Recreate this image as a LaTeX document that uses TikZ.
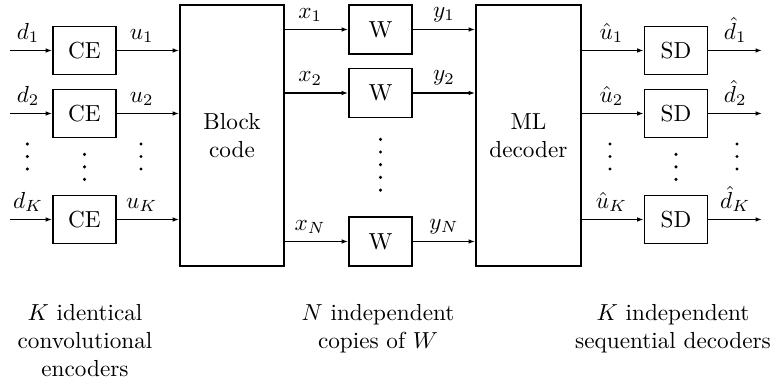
\documentclass[tikz,border=0pt]{standalone}
\usetikzlibrary{arrows.meta}
\begin{document}
\begin{tikzpicture}[x=0.431pt,y=-0.431pt,
  box/.style={draw,line width=0.75pt,inner sep=0pt,minimum width=27.15pt,minimum height=20.7pt},
  wbox/.style={box,minimum height=21.1pt},
  big/.style={draw,line width=0.75pt,inner sep=0pt,minimum width=44.8pt,minimum height=112.5pt,align=center},
  arr/.style={line width=0.7pt,-{Latex[length=2.8pt,width=2pt]}},
  lab/.style={above,inner sep=3pt},
  dot/.style={radius=0.75pt},
  note/.style={align=center,anchor=north,inner sep=0pt}]
\useasboundingbox (0,0) rectangle (777,386);
% convolutional encoders
\node[box] (ce1) at (84.5,50.5) {CE};
\node[box] (ce2) at (84.5,113.5) {CE};
\node[box] (ceK) at (84.5,219.5) {CE};
% block code and ML decoder
\node[big] (blk) at (232,135.5) {Block\\code};
\node[big,minimum width=45.3pt] (ml) at (528.5,135.5) {ML\\decoder};
% channels
\node[wbox] (w1) at (380.5,29.5) {W};
\node[wbox] (w2) at (380.5,93) {W};
\node[wbox] (wN) at (380.5,241.5) {W};
% sequential decoders
\node[box] (sd1) at (676,50.5) {SD};
\node[box] (sd2) at (676,113.5) {SD};
\node[box] (sdK) at (676,219.5) {SD};
% free ends
\coordinate (in1) at (10,50.5);
\coordinate (in2) at (10,113.5);
\coordinate (inK) at (10,219.5);
\coordinate (out1) at (762,50.5);
\coordinate (out2) at (762,113.5);
\coordinate (outK) at (762,219.5);
% connectors
\draw[arr] (in1) -- node[lab,pos=.43] {$d_1$} (ce1);
\draw[arr] (in2) -- node[lab,pos=.43] {$d_2$} (ce2);
\draw[arr] (inK) -- node[lab,pos=.43] {$d_K$} (ceK);
\draw[arr] (ce1) -- node[lab,pos=.4] {$u_1$} (ce1 -| blk.west);
\draw[arr] (ce2) -- node[lab,pos=.4] {$u_2$} (ce2 -| blk.west);
\draw[arr] (ceK) -- node[lab,pos=.4] {$u_K$} (ceK -| blk.west);
\draw[arr] (blk.east |- w1) -- node[lab,pos=.4] {$x_1$} (w1);
\draw[arr] (blk.east |- w2) -- node[lab,pos=.4] {$x_2$} (w2);
\draw[arr] (blk.east |- wN) -- node[lab,pos=.4] {$x_N$} (wN);
\draw[arr] (w1) -- node[lab,pos=.5] {$y_1$} (w1 -| ml.west);
\draw[arr] (w2) -- node[lab,pos=.5] {$y_2$} (w2 -| ml.west);
\draw[arr] (wN) -- node[lab,pos=.5] {$y_N$} (wN -| ml.west);
\draw[arr] (ml.east |- sd1) -- node[lab,pos=.48] {$\hat{u}_1$} (sd1);
\draw[arr] (ml.east |- sd2) -- node[lab,pos=.48] {$\hat{u}_2$} (sd2);
\draw[arr] (ml.east |- sdK) -- node[lab,pos=.48] {$\hat{u}_K$} (sdK);
\draw[arr] (sd1) -- node[lab,pos=.5] {$\hat{d}_1$} (out1);
\draw[arr] (sd2) -- node[lab,pos=.5] {$\hat{d}_2$} (out2);
\draw[arr] (sdK) -- node[lab,pos=.5] {$\hat{d}_K$} (outK);
% vertical dots
\foreach \xx in {27.3,141,610,737} {
  \foreach \yy in {144,156.5,169} \fill (\xx,\yy) circle[dot];
}
\foreach \xx in {84.5,676} {
  \foreach \yy in {154.3,166.8,179.3} \fill (\xx,\yy) circle[dot];
}
\foreach \yy in {139.3,152,164.7,177.4,190.1} \fill (380.5,\yy) circle[dot];
% captions
\node[note] (c1) at (85,304) {$K$ identical\\convolutional\\encoders};
\node[note] (c2) at (378,304) {$N$ independent\\copies of $W$};
\node[note] (c3) at (673,304) {$K$ independent\\sequential decoders};
\end{tikzpicture}
\end{document}
